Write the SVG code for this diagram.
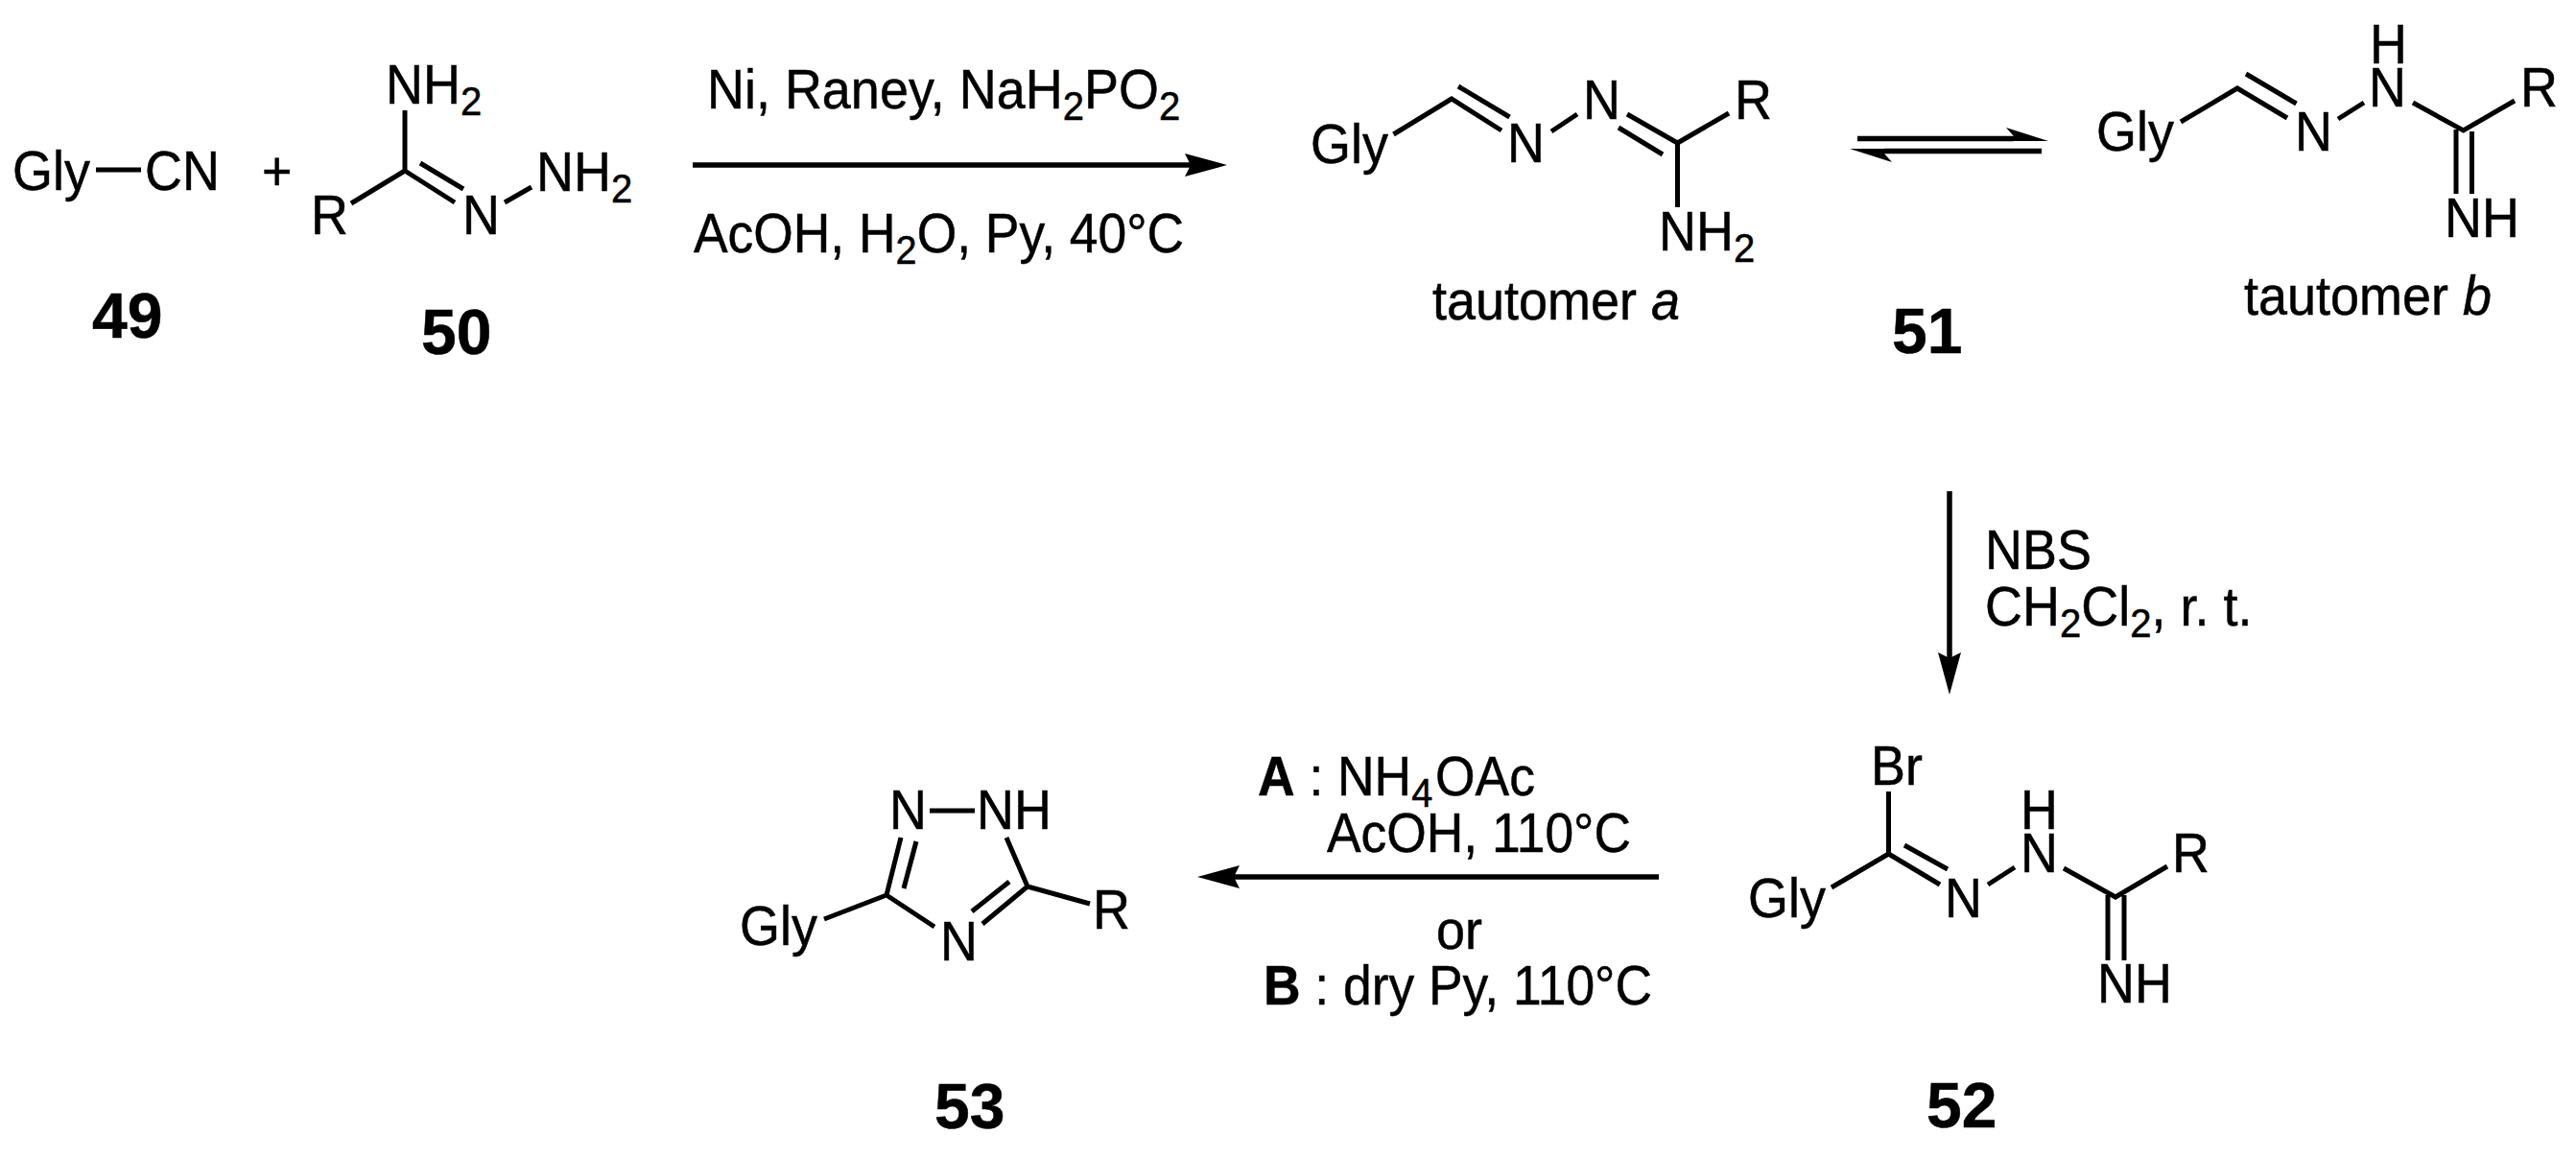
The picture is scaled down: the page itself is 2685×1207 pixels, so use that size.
<svg xmlns="http://www.w3.org/2000/svg" width="2685" height="1207" viewBox="0 0 2685 1207">
<style>
text{font-family:"Liberation Sans",Arial,sans-serif;font-size:56.5px;fill:#000;stroke:#000;stroke-width:.5px;transform-box:fill-box;transform-origin:0 0;transform:scaleX(.955)}
.sub{font-size:42px}
text.num{font-weight:bold;font-size:66px;transform:none}
text.tight{transform:scaleX(.945)}
.b{font-weight:bold}
.i{font-style:italic}
.bond{stroke:#000;stroke-width:5;fill:none;stroke-linecap:butt}
.arrow{stroke:#000;stroke-width:5.5;fill:none}
</style>
<defs>
<marker id="head" markerUnits="userSpaceOnUse" markerWidth="46" markerHeight="28" viewBox="0 0 46 28" refX="6" refY="14" orient="auto"><path d="M0 2 L44 14 L0 26 L6 14Z" fill="#000"/></marker>
<marker id="barb" markerUnits="userSpaceOnUse" markerWidth="46" markerHeight="28" viewBox="0 0 46 28" refX="8" refY="14" orient="auto"><path d="M0 2.5 L44 16.5 L8 16.5 L8 11.5Z" fill="#000"/></marker>
</defs>
<rect width="2685" height="1207" fill="#fff"/>
<g id="connectors">
<line class="arrow" x1="722" y1="172" x2="1241" y2="172" marker-end="url(#head)"/>
<line class="arrow" x1="1936" y1="144.5" x2="2099" y2="144.5" marker-end="url(#barb)"/>
<line class="arrow" x1="2128" y1="157.5" x2="1964" y2="157.5" marker-end="url(#barb)"/>
<line class="arrow" x1="2032" y1="512" x2="2032" y2="686" marker-end="url(#head)"/>
<line class="arrow" x1="1729" y1="914" x2="1286" y2="914" marker-end="url(#head)"/>
</g>
<g id="compound-49">
<text x="13" y="198">Gly</text>
<line class="bond" x1="100" y1="177" x2="147" y2="177"/>
<text x="151" y="198">CN</text>
<text class="num" x="96" y="352">49</text>
</g>
<text id="plus" x="273" y="198">+</text>
<g id="compound-50">
<path class="bond" d="M422 115V178L366 212M422 178L474 211M438 170L483 197M526 211L554 195"/>
<text x="402" y="108">NH<tspan class="sub" dy="12">2</tspan></text>
<text x="324" y="244">R</text>
<text x="482" y="244">N</text>
<text x="559" y="199">NH<tspan class="sub" dy="12">2</tspan></text>
<text class="num" x="439" y="369">50</text>
</g>
<g id="conditions-1">
<text x="737" y="113">Ni, Raney, NaH<tspan class="sub" dy="12">2</tspan><tspan dy="-12">PO</tspan><tspan class="sub" dy="12">2</tspan></text>
<text class="tight" x="723" y="263">AcOH, H<tspan class="sub" dy="12">2</tspan><tspan dy="-12">O, Py, 40°C</tspan></text>
</g>
<g id="tautomer-a">
<path class="bond" d="M1452.5 140L1513 103L1565 136M1520 90L1573.5 122M1617 137L1644 119M1696 119L1748.5 149L1802 118M1687 133L1733 161M1748.5 149V216"/>
<text x="1366" y="170">Gly</text>
<text x="1571" y="169">N</text>
<text x="1650" y="124">N</text>
<text x="1808" y="124">R</text>
<text x="1729" y="261">NH<tspan class="sub" dy="12">2</tspan></text>
<text x="1493" y="333">tautomer <tspan class="i">a</tspan></text>
</g>
<text id="label-51" class="num" x="1972" y="368">51</text>
<g id="tautomer-b">
<path class="bond" d="M2273 127L2332 92L2384 123M2341 77L2393.5 108M2437 124L2464 107M2515 107L2567.6 136L2621 105M2560 135V202M2576.5 137V202"/>
<text x="2185" y="157">Gly</text>
<text x="2392" y="157">N</text>
<text x="2469" y="111">N</text>
<text x="2470" y="66">H</text>
<text x="2627" y="111">R</text>
<text x="2548" y="247">NH</text>
<text x="2339" y="328">tautomer <tspan class="i">b</tspan></text>
</g>
<g id="conditions-2">
<text x="2069" y="593">NBS</text>
<text x="2069" y="652">CH<tspan class="sub" dy="12">2</tspan><tspan dy="-12">Cl</tspan><tspan class="sub" dy="12">2</tspan><tspan dy="-12">, r. t.</tspan></text>
</g>
<g id="compound-52">
<path class="bond" d="M1968.5 825V890L1909 925M1968.5 890L2022 922M1985 881L2030 906M2072 922L2100 904M2151 905L2205 935L2259 903M2197 933V1001M2214 933V1001"/>
<text x="1950" y="818">Br</text>
<text x="1822" y="956">Gly</text>
<text x="2027" y="956">N</text>
<text x="2106" y="909">N</text>
<text x="2106" y="864">H</text>
<text x="2264" y="909">R</text>
<text x="2186" y="1045">NH</text>
<text class="num" x="2008" y="1175">52</text>
</g>
<g id="conditions-3">
<text class="tight" x="1311" y="829"><tspan class="b">A</tspan> : NH<tspan class="sub" dy="12">4</tspan><tspan dy="-12" dx="3">OAc</tspan></text>
<text class="tight" x="1383" y="888">AcOH, 110°C</text>
<text x="1497" y="989">or</text>
<text class="tight" x="1317" y="1047"><tspan class="b">B</tspan> : dry Py, 110°C</text>
</g>
<g id="compound-53">
<path class="bond" d="M969 845H1016M939 873L924 933L859 958M955 877L942 926M924 933L974 966M1024 963L1071 924L1049 873M1013 950L1052 919M1071 924L1136 942"/>
<text x="927" y="864">N</text>
<text x="1018" y="864">NH</text>
<text x="771" y="985">Gly</text>
<text x="980" y="1001">N</text>
<text x="1139" y="968">R</text>
<text class="num" x="974" y="1176">53</text>
</g>
</svg>
